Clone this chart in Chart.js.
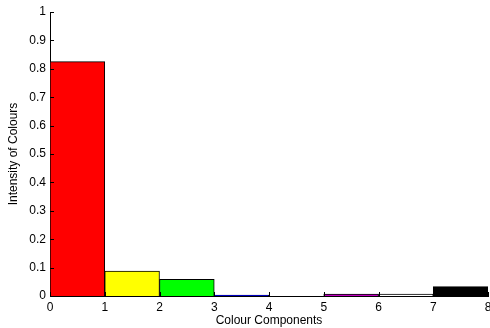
<!DOCTYPE html>
<html>
<head>
<meta charset="utf-8">
<script src="https://cdn.jsdelivr.net/npm/chart.js@4.4.1/dist/chart.umd.min.js"></script>
<style>
  html, body { margin: 0; padding: 0; background: #fff; }
  #wrap { width: 490px; height: 328px; }
</style>
</head>
<body>
<div id="wrap"><canvas id="chart" width="490" height="328"></canvas></div>
<script>
// Data
const components = [0.5, 1.5, 2.5, 3.5, 4.5, 5.5, 6.5, 7.5]; // bin centres
const intensity = [0.825, 0.088, 0.059, 0.003, 0, 0.007, 0.007, 0.033];
const barColours = ['#ff0000', '#ffff00', '#00ff00', '#0000ff', '#00ffff', '#c000c0', '#ffffff', '#000000'];
const xTicks = [0, 1, 2, 3, 4, 5, 6, 7, 8];
const yTicks = [0, 0.1, 0.2, 0.3, 0.4, 0.5, 0.6, 0.7, 0.8, 0.9, 1];

const font = { family: 'Liberation Sans, Arial, sans-serif', size: 12 };

// inward tick marks like matlab
const innerTicks = {
    id: 'innerTicks',
    afterDatasetsDraw(chart) {
        const ctx = chart.ctx;
        const x = chart.scales.x, y = chart.scales.y;
        ctx.save();
        ctx.strokeStyle = '#000';
        ctx.lineWidth = 1;
        ctx.beginPath();
        yTicks.forEach(v => {
            const py = Math.round(y.getPixelForValue(v)) + 0.5;
            ctx.moveTo(x.left, py);
            ctx.lineTo(x.left + 4, py);
        });
        xTicks.forEach(v => {
            const px = Math.round(x.getPixelForValue(v)) + 0.5;
            ctx.moveTo(px, y.bottom);
            ctx.lineTo(px, y.bottom - 4);
        });
        ctx.stroke();
        ctx.restore();
    }
};

new Chart(document.getElementById('chart'), {
    type: 'bar',
    data: {
        datasets: [{
            data: components.map((c, i) => ({ x: c, y: intensity[i] })),
            backgroundColor: barColours,
            borderColor: '#000',
            borderWidth: 1,
            barPercentage: 1,
            categoryPercentage: 1
        }]
    },
    options: {
        responsive: false,
        animation: false,
        layout: { padding: { left: 0, top: 12, right: 2, bottom: 0 } },
        plugins: { legend: { display: false }, tooltip: { enabled: false } },
        scales: {
            x: {
                type: 'linear',
                min: 0,
                max: 8,
                offset: false,
                afterBuildTicks: s => { s.ticks = xTicks.map(v => ({ value: v })); },
                afterFit: s => { s.height = 32; s.paddingLeft = 0; s.paddingRight = 0; },
                grid: { display: false, drawTicks: false },
                border: { color: '#000', width: 1 },
                ticks: { color: '#000', font, padding: 4, maxRotation: 0, autoSkip: false },
                title: { display: true, text: 'Colour Components', color: '#000', font, padding: { top: 0, bottom: 0 } }
            },
            y: {
                min: 0,
                max: 1,
                afterBuildTicks: s => { s.ticks = yTicks.map(v => ({ value: v })); },
                afterFit: s => { s.width = 50; s.paddingTop = 0; s.paddingBottom = 0; },
                grid: { display: false, drawTicks: false },
                border: { color: '#000', width: 1 },
                ticks: { color: '#000', font, padding: 4, autoSkip: false, callback: v => String(v) },
                title: { display: true, text: 'Intensity of Colours', color: '#000', font, padding: { top: 6, bottom: 0 } }
            }
        }
    },
    plugins: [innerTicks]
});
</script>
</body>
</html>
